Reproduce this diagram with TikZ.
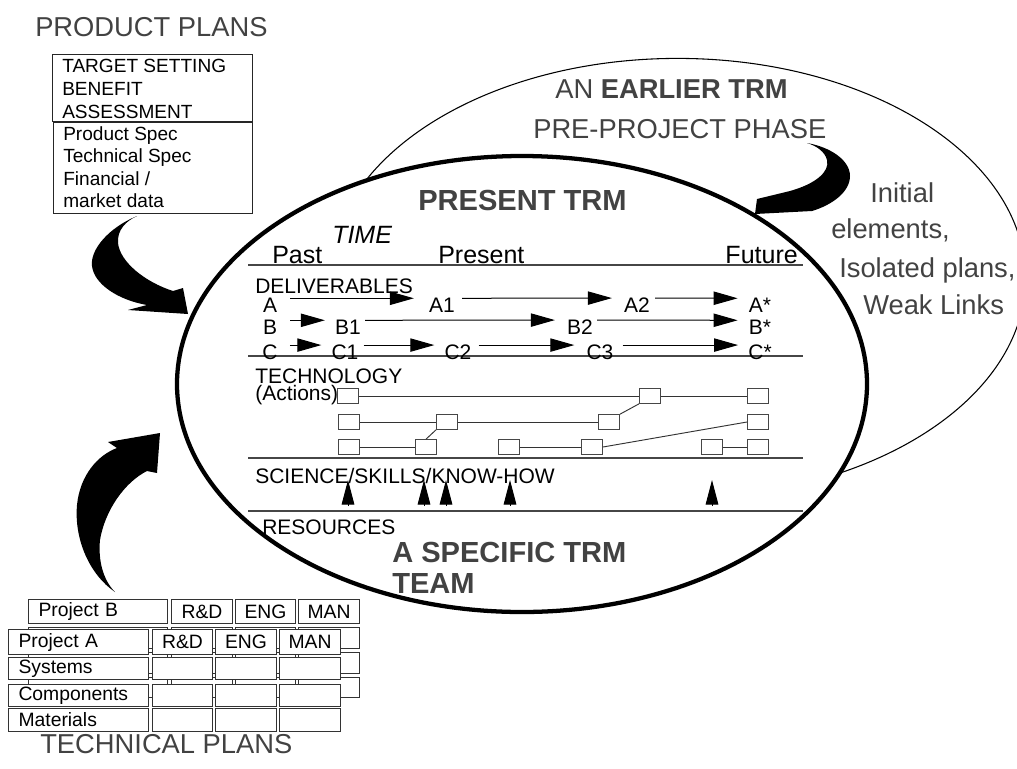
\documentclass[tikz,border=0pt]{standalone}
\usepackage{fontspec}
\setmainfont{Liberation Sans}
\usetikzlibrary{arrows.meta,shapes.geometric}
\definecolor{headgray}{RGB}{66,66,66}
\definecolor{linegray}{RGB}{70,70,70}
\tikzset{
  head/.style={inner sep=0, text=headgray, font=\fontsize{20.5}{24}\selectfont},
  headb/.style={inner sep=0, text=headgray, font=\fontsize{21.8}{25}\selectfont\bfseries},
  axis/.style={inner sep=0, font=\fontsize{18.75}{22}\selectfont},
  lab/.style={inner sep=0, font=\fontsize{15.75}{18}\selectfont},
  btxt/.style={inner sep=0, font=\fontsize{14.3}{17}\selectfont},
  layer/.style={draw=linegray, line width=0.8pt},
  del/.style={-{Triangle[length=18pt,width=10pt]}, line width=0.75pt},
  sci/.style={-{Triangle[length=18.5pt,width=9.5pt]}, line width=0.75pt},
  tbox/.style={draw=linegray, fill=white, line width=0.75pt, minimum width=15.75pt, minimum height=11pt, inner sep=0},
  tlink/.style={draw=black!80, line width=0.7pt},
  cell/.style 2 args={draw=black!80, fill=white, line width=0.8pt, anchor=north west, inner sep=0,
    minimum width=#1*0.75pt, minimum height=#2*0.75pt, font=\fontsize{14.5}{17}\selectfont},
  lcell/.style={text width=#1, align=left, inner xsep=7.5pt},
  planbox/.style={draw=black!85, line width=0.9pt, anchor=north west, inner sep=0},
  block/.style={fill=black}
}
\begin{document}
\begin{tikzpicture}[x=0.75pt,y=-0.75pt]
\useasboundingbox (0,0) rectangle (1017,768);

% ---- the earlier roadmap (thin outline, partly behind the present one)
\node[ellipse, draw, line width=0.8pt, inner sep=0,
      minimum width=522pt, minimum height=330pt] (earliertrm) at (677.5,278.4) {};

% ---- the present roadmap
\node[ellipse, draw, line width=3.2pt, fill=white, inner sep=0,
      minimum width=517.5pt, minimum height=342pt] (trm) at (522,384) {};

\node[head, anchor=base west] (earlier) at (555,98) {AN \textbf{EARLIER TRM}};
\node[head, anchor=base west] (prephase) at (533,138) {PRE-PROJECT PHASE};
\node[head, anchor=base west] (ini1) at (870,202) {Initial};
\node[head, anchor=base west] (ini2) at (831,238) {elements,};
\node[head, anchor=base west] (ini3) at (839,277) {Isolated plans,};
\node[head, anchor=base west] (ini4) at (863,314) {Weak Links};

\node[headb, anchor=base west] (present) at (418,210) {PRESENT TRM};
\node[axis, anchor=base west, font=\fontsize{18.75}{22}\selectfont\itshape] (time) at (332,243) {TIME};
\node[axis, anchor=base west] (past) at (272,263) {Past};
\node[axis, anchor=base west] (now) at (438,263) {Present};
\node[axis, anchor=base east] (future) at (798,263) {Future};

% layer separators
\coordinate (l1w) at (248,265); \coordinate (l1e) at (803,265);
\coordinate (l2w) at (248,356); \coordinate (l2e) at (803,356);
\coordinate (l3w) at (248,458); \coordinate (l3e) at (803,458);
\coordinate (l4w) at (248,511); \coordinate (l4e) at (803,511);
\draw[layer] (l1w) -- (l1e);
\draw[layer] (l2w) -- (l2e);
\draw[layer] (l3w) -- (l3e);
\draw[layer] (l4w) -- (l4e);

% deliverables
\node[lab, anchor=base west] (deliv) at (255,293) {DELIVERABLES};
\node[lab, anchor=base] (a)  at (270,312) {A};
\node[lab, anchor=base] (a1) at (442,312) {A1};
\node[lab, anchor=base] (a2) at (637,312) {A2};
\node[lab, anchor=base] (as) at (760,312) {A*};
\node[lab, anchor=base] (b)  at (270,334) {B};
\node[lab, anchor=base] (b1) at (348,334) {B1};
\node[lab, anchor=base] (b2) at (580,334) {B2};
\node[lab, anchor=base] (bs) at (760,334) {B*};
\node[lab, anchor=base] (c)  at (270,359) {C};
\node[lab, anchor=base] (c1) at (345,359) {C1};
\node[lab, anchor=base] (c2) at (458,359) {C2};
\node[lab, anchor=base] (c3) at (600,359) {C3};
\node[lab, anchor=base] (cs) at (760,359) {C*};

\draw[del] ([shift={(13,1)}]a.north east)  -- ([shift={(-15,1)}]a1.north west);
\draw[del] ([shift={(7,1)}]a1.north east)  -- ([shift={(-12,1)}]a2.north west);
\draw[del] ([shift={(5,1)}]a2.north east)  -- ([shift={(-11,1)}]as.north west);
\draw[del] ([shift={(13,1)}]b.north east)  -- ([shift={(-10,1)}]b1.north west);
\draw[del] ([shift={(4,1)}]b1.north east)  -- ([shift={(-12,1)}]b2.north west);
\draw[del] ([shift={(4,1)}]b2.north east)  -- ([shift={(-11,1)}]bs.north west);
\draw[del] ([shift={(12,1)}]c.north east)  -- ([shift={(-10,1)}]c1.north west);
\draw[del] ([shift={(5,1)}]c1.north east)  -- ([shift={(-10,1)}]c2.north west);
\draw[del] ([shift={(7,1)}]c2.north east)  -- ([shift={(-12,1)}]c3.north west);
\draw[del] ([shift={(9,1)}]c3.north east)  -- ([shift={(-10,1)}]cs.north west);

% technology actions
\node[lab, anchor=base west] (tech) at (255,383) {TECHNOLOGY};
\node[lab, anchor=base west] (actions) at (255,400) {(Actions)};
\node[tbox] (t11) at (348,396) {};
\node[tbox] (t12) at (650,396) {};
\node[tbox] (t13) at (758,396) {};
\node[tbox] (t21) at (349,422) {};
\node[tbox] (t22) at (447,422) {};
\node[tbox] (t23) at (609,422) {};
\node[tbox] (t24) at (758,422) {};
\node[tbox] (t31) at (349,447) {};
\node[tbox] (t32) at (426,447) {};
\node[tbox] (t33) at (509,447) {};
\node[tbox] (t34) at (592,447) {};
\node[tbox] (t35) at (712,447) {};
\node[tbox] (t36) at (758,447) {};
\draw[tlink] (t11) -- (t12);
\draw[tlink] (t12) -- (t13);
\draw[tlink] (t21) -- (t22);
\draw[tlink] (t22) -- (t23);
\draw[tlink] (t23.north east) -- (t12.south west);
\draw[tlink] (t31) -- (t32);
\draw[tlink] (t32.north) -- (t22.south west);
\draw[tlink] (t33) -- (t34);
\draw[tlink] (t34.east) -- (t24.west);
\draw[tlink] (t35) -- (t36);

% science / skills / know-how
\node[lab, anchor=base west] (science) at (255,483) {SCIENCE/SKILLS/KNOW-HOW};
\foreach \x [count=\i] in {348,424,446,510,712} {
  \coordinate (s\i b) at (\x,506);
  \coordinate (s\i t) at (\x,480);
  \draw[sci] (s\i b) -- (s\i t);
}

% resources
\node[lab, anchor=base west] (resources) at (262,534) {RESOURCES};
\node[headb, anchor=base west] (team1) at (392,562) {A SPECIFIC TRM};
\node[headb, anchor=base west] (team2) at (392,593) {TEAM};

% ---- product plans
\node[head, anchor=base west] (pplans) at (35,36) {PRODUCT PLANS};
\node[planbox, minimum width=150pt, minimum height=50.25pt] (ppbox1) at (52,54) {};
\node[planbox, minimum width=149.25pt, minimum height=68.25pt] (ppbox2) at (53,122) {};
\foreach \t [count=\i] in {TARGET SETTING,BENEFIT,ASSESSMENT}
  \node[btxt, anchor=base west] (tgt\i) at (62,{72+23*(\i-1)}) {\t};
\foreach \t [count=\i] in {Product Spec,Technical Spec,Financial /,market data}
  \node[btxt, anchor=base west] (spec\i) at (63,{140+22.5*(\i-1)}) {\t};

% ---- curved block arrows feeding the roadmap
\fill[block] (137,216) .. controls (108,228) and (90,250) .. (92,266)
  .. controls (94,284) and (118,300) .. (147,305) -- (128,310) -- (188,314)
  -- (183,288) -- (173,291) .. controls (145,282) and (120,262) .. (118,243)
  .. controls (117,230) and (126,221) .. cycle;
\fill[block] (115,592) .. controls (90,575) and (74,540) .. (77,505)
  .. controls (80,475) and (98,455) .. (117,448) -- (108,442) -- (160,433)
  -- (157,473) -- (147,471) .. controls (125,482) and (105,510) .. (100,540)
  .. controls (98,560) and (103,580) .. cycle;
\fill[block] (807,143) .. controls (830,147) and (850,160) .. (850,176)
  .. controls (850,192) and (832,205) .. (812,211) -- (755,214) -- (757,199)
  -- (790,191) .. controls (815,184) and (830,172) .. (827,160)
  .. controls (825,152) and (817,146) .. cycle;

% ---- technical plans: project B behind project A
\node[cell={139}{24}, lcell=89.25pt] (pb) at (28,599) {Project B};
\node[cell={61}{24}] (pbrd) at (171,599) {R\&D};
\node[cell={60}{24}] (pbeng) at (235,599) {ENG};
\node[cell={61}{24}] (pbman) at (298,599) {MAN};
\foreach \y/\h [count=\r] in {627/21,652/21,677/20} {
  \node[cell={139}{\h}] (pbl\r) at (28,\y) {};
  \node[cell={61}{\h}] (pbr\r) at (171,\y) {};
  \node[cell={60}{\h}] (pbe\r) at (235,\y) {};
  \node[cell={61}{\h}] (pbm\r) at (298,\y) {};
}
\node[cell={140}{25}, lcell=90pt] (pa) at (8,629) {Project A};
\node[cell={60}{25}] (pard) at (152,629) {R\&D};
\node[cell={61}{25}] (paeng) at (215,629) {ENG};
\node[cell={61}{25}] (paman) at (279,629) {MAN};
\foreach \y/\h/\t [count=\r] in {657/22/Systems,684/22/Components,708/23/Materials} {
  \node[cell={140}{\h}, lcell=90pt] (pal\r) at (8,\y) {\t};
  \node[cell={60}{\h}] (par\r) at (152,\y) {};
  \node[cell={61}{\h}] (pae\r) at (215,\y) {};
  \node[cell={61}{\h}] (pam\r) at (279,\y) {};
}
\node[head, anchor=base west] (tplans) at (40,753) {TECHNICAL PLANS};

\end{tikzpicture}
\end{document}
